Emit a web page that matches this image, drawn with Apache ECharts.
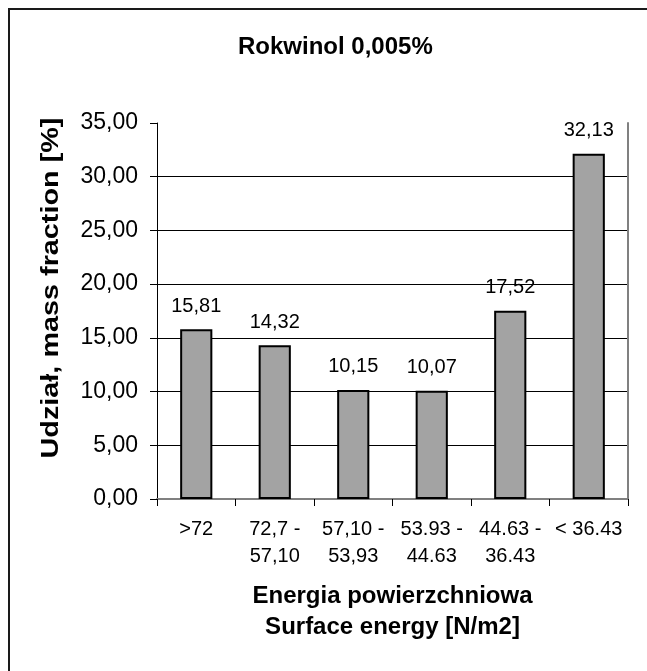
<!DOCTYPE html>
<html>
<head>
<meta charset="utf-8">
<script src="https://cdn.jsdelivr.net/npm/echarts@6/dist/echarts.min.js"></script>
<style>
html,body{margin:0;padding:0;background:#fff;}
#chart{width:647px;height:671px;}
</style>
</head>
<body>
<div id="chart"></div>
<script>
const chartTitle = 'Rokwinol 0,005%';
const categories = ['>72', '72,7 -\n57,10', '57,10 -\n53,93', '53.93 -\n44.63', '44.63 -\n36.43', '< 36.43'];
const values = [15.81, 14.32, 10.15, 10.07, 17.52, 32.13];
const yMin = 0, yMax = 35, yStep = 5;
const xTitle = 'Energia powierzchniowa\nSurface energy [N/m2]';
const yTitle = 'Udział, mass fraction [%]';

const FF = '"Liberation Sans", Arial, sans-serif';
const fmt = v => Number(v).toFixed(2).replace('.', ',');

const chart = echarts.init(document.getElementById('chart'), null, {renderer: 'canvas'});
chart.setOption({
  animation: false,
  backgroundColor: '#fff',
  title: {
    text: chartTitle, left: 233, top: 30,
    textStyle: {fontFamily: FF, fontSize: 24, fontWeight: 'bold', color: '#000'}
  },
  graphic: [
    {type: 'rect', shape: {x: 9, y: 9, width: 760, height: 760}, style: {fill: 'none', stroke: '#1a1a1a', lineWidth: 2}, z: 100},
    {type: 'text', x: 51, y: 288, rotation: Math.PI / 2, scaleX: 1.2,
     style: {text: yTitle, font: 'bold 24px "Liberation Sans", Arial, sans-serif', fill: '#000', textAlign: 'center', textVerticalAlign: 'middle'}}
  ],
  grid: {left: 157, top: 123, right: 19, bottom: 172, containLabel: false},
  xAxis: [
    {
      type: 'category', data: categories, position: 'bottom',
      axisLine: {lineStyle: {color: '#000', width: 1}},
      axisTick: {show: true, length: 7, lineStyle: {color: '#000'}},
      axisLabel: {interval: 0, margin: 17, color: '#000', fontFamily: FF, fontSize: 20, lineHeight: 27},
      name: xTitle, nameLocation: 'middle', nameGap: 82,
      nameTextStyle: {fontFamily: FF, fontSize: 24, fontWeight: 'bold', color: '#000', lineHeight: 31}
    },
    {
      type: 'category', data: categories, position: 'top',
      axisLine: {lineStyle: {color: '#808080', width: 2}},
      axisTick: {show: false}, axisLabel: {show: false}
    }
  ],
  yAxis: [
    {
      type: 'value', min: yMin, max: yMax, interval: yStep,
      axisLine: {show: true, lineStyle: {color: '#000', width: 1}},
      axisTick: {show: true, length: 7, lineStyle: {color: '#000'}},
      axisLabel: {margin: 19, color: '#000', fontFamily: FF, fontSize: 23, formatter: fmt},
      splitLine: {show: true, showMaxLine: false, lineStyle: {color: '#000', width: 1}}
    },
    {
      type: 'value', min: yMin, max: yMax, interval: yStep, position: 'right',
      axisLine: {show: true, lineStyle: {color: '#808080', width: 2}},
      axisTick: {show: false}, axisLabel: {show: false}, splitLine: {show: false}
    }
  ],
  series: [{
    type: 'bar', data: values, barWidth: '41%',
    itemStyle: {color: '#a3a3a3', borderColor: '#000', borderWidth: 2},
    label: {show: true, position: 'top', distance: 13, color: '#000', fontFamily: FF, fontSize: 20, formatter: p => fmt(p.value)}
  }]
});
</script>
</body>
</html>
